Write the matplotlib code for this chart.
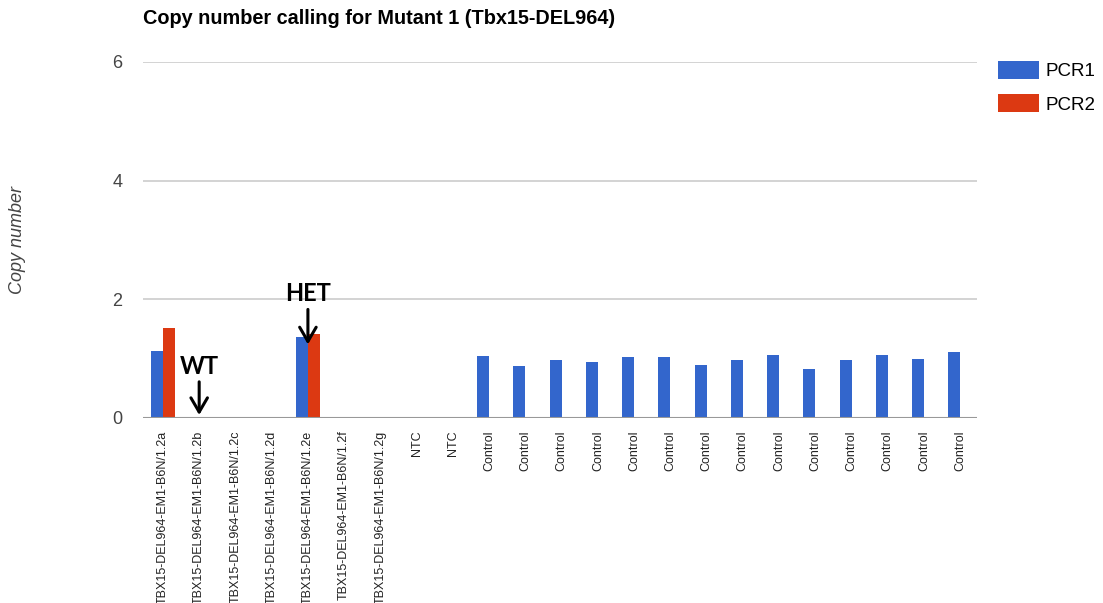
import numpy as np
import matplotlib.pyplot as plt

plt.rcParams['font.family'] = ['Liberation Sans', 'DejaVu Sans']

# Data
samples = ['TBX15-DEL964-EM1-B6N/1.2a', 'TBX15-DEL964-EM1-B6N/1.2b',
           'TBX15-DEL964-EM1-B6N/1.2c', 'TBX15-DEL964-EM1-B6N/1.2d',
           'TBX15-DEL964-EM1-B6N/1.2e', 'TBX15-DEL964-EM1-B6N/1.2f',
           'TBX15-DEL964-EM1-B6N/1.2g', 'NTC', 'NTC'] + ['Control'] * 14
pcr1 = [1.13, 0.0, 0.0, 0.0, 1.37, 0.0, 0.0, 0.01, 0.01,
        1.04, 0.87, 0.97, 0.94, 1.02, 1.02, 0.89, 0.97, 1.06, 0.82, 0.97, 1.06, 0.99, 1.11]
pcr2 = [1.52, 0.0, 0.0, 0.0, 1.41, 0.0, 0.0, 0.0, 0.0,
        0, 0, 0, 0, 0, 0, 0, 0, 0, 0, 0, 0, 0, 0]
yticks = [0, 2, 4, 6]

BLUE = '#3366CC'
RED = '#DC3912'
W, H = 1103, 603

fig = plt.figure(figsize=(W / 100, H / 100), dpi=100)
ax = fig.add_axes([143 / W, 1 - 418 / H, (977 - 143) / W, (418 - 62) / H])

x = np.arange(len(samples))
bw = 0.33
ax.bar(x - bw / 2, pcr1, bw, color=BLUE, label='PCR1', zorder=3)
ax.bar(x + bw / 2, pcr2, bw, color=RED, label='PCR2', zorder=3)

ax.set_xlim(-0.55, 22.46)
ax.set_ylim(0, 6)

for s in ax.spines.values():
    s.set_visible(False)
for yv in yticks[1:]:
    ax.axhline(yv, color='#CCCCCC', lw=1.2, zorder=1)
ax.axhline(0, color='#999999', lw=1.5, zorder=4)

ax.set_yticks(yticks)
ax.set_yticklabels([str(v) for v in yticks], fontsize=13, color='#444444')
ax.tick_params(axis='y', length=0, pad=15)
ax.set_xticks(x)
ax.set_xticklabels(samples, rotation=90, fontsize=9, color='#222222', va='top')
ax.tick_params(axis='x', length=0, pad=9)

fig.text(18 / W, 1 - 240 / H, 'Copy number', fontsize=13, style='italic',
         color='#444444', rotation=90, ha='center', va='center')

fig.text(143 / W, 1 - 19 / H, 'Copy number calling for Mutant 1 (Tbx15-DEL964)',
         fontsize=14.3, fontweight='bold', color='#000000', va='center', ha='left')

fig.legend(loc='upper left', bbox_to_anchor=(998 / W, 1 - 61 / H),
           frameon=False, fontsize=13.5,
           handlelength=2.2, handleheight=1.1, labelspacing=0.75, handletextpad=0.35,
           borderaxespad=0, borderpad=0)

# annotations
ax.annotate('WT', xy=(1, 0.05), xytext=(1, 0.68), ha='center', va='bottom',
            fontsize=17, fontweight='bold', family=['Lato', 'DejaVu Sans'],
            arrowprops=dict(arrowstyle='->,head_length=0.6,head_width=0.35', lw=2.2, color='black',
                            shrinkA=1, shrinkB=0))
ax.annotate('HET', xy=(4, 1.24), xytext=(4, 1.9), ha='center', va='bottom',
            fontsize=17, fontweight='bold', family=['Lato', 'DejaVu Sans'],
            arrowprops=dict(arrowstyle='->,head_length=0.6,head_width=0.35', lw=2.2, color='black',
                            shrinkA=1, shrinkB=0))

fig.savefig('out.png', dpi=100, facecolor='white')
